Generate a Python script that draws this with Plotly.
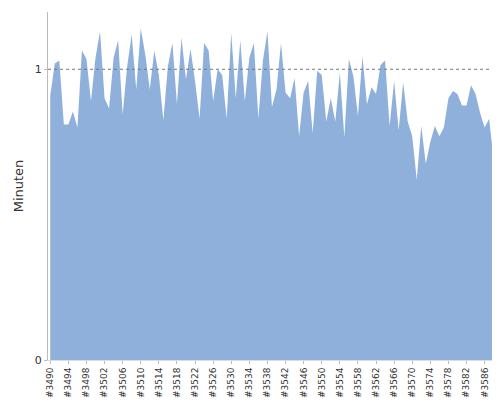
import plotly.graph_objects as go

values = [0.91,1.02,1.03,0.81,0.81,0.855,0.80,1.065,1.035,0.89,1.04,1.13,0.90,0.865,1.04,1.10,0.845,1.01,1.12,0.93,
1.14,1.05,0.93,1.065,0.98,0.825,1.01,1.09,0.88,1.11,0.965,1.07,0.96,0.83,1.09,1.065,0.89,1.0,0.98,0.83,
1.125,0.90,1.10,0.89,1.04,1.09,0.83,1.03,1.13,0.87,0.93,
1.09,0.92,0.90,0.97,0.77,0.92,0.96,0.78,0.995,0.98,0.82,0.90,0.82,0.99,0.765,1.035,0.975,0.84,1.045,0.88,0.938,0.915,1.015,1.03,
0.805,0.96,0.79,0.955,0.82,0.77,0.62,0.805,0.675,0.75,0.805,0.77,0.80,0.90,0.925,0.915,0.875,0.875,0.945,0.915,0.85,0.80,0.83,0.69,0.79]
categories = ["#%d" % (3490 + i) for i in range(len(values))]
tick_labels = categories[::4]

fig = go.Figure(go.Scatter(x=categories, y=values, mode="lines", fill="tozeroy",
    line=dict(width=0, color="#8eb0da"), fillcolor="#8eb0da"))
fig.add_hline(y=1, line=dict(color="#777", width=1, dash="dot"))
fig.update_layout(width=500, height=400, margin=dict(l=40, r=8, t=4, b=48, autoexpand=False),
    plot_bgcolor="white", paper_bgcolor="white", showlegend=False,
    font=dict(family="DejaVu Sans", size=9, color="#333"))
fig.update_xaxes(tickvals=tick_labels, ticktext=tick_labels, tickangle=-90, range=[-0.5, len(values)-0.6],
    showgrid=False, ticks="outside", ticklen=3, tickcolor="#bbb", showline=True, linecolor="#ddd",
    automargin=False, tickfont=dict(size=9))
fig.update_yaxes(range=[0, 1.197], tickvals=[0, 1], title=dict(text="Minuten", font=dict(size=13), standoff=8),
    showgrid=False, zeroline=False, showline=True, linecolor="#bbb", ticks="outside", ticklen=3, tickcolor="#bbb",
    automargin=False, tickfont=dict(size=11))
fig.write_html("out.html")
